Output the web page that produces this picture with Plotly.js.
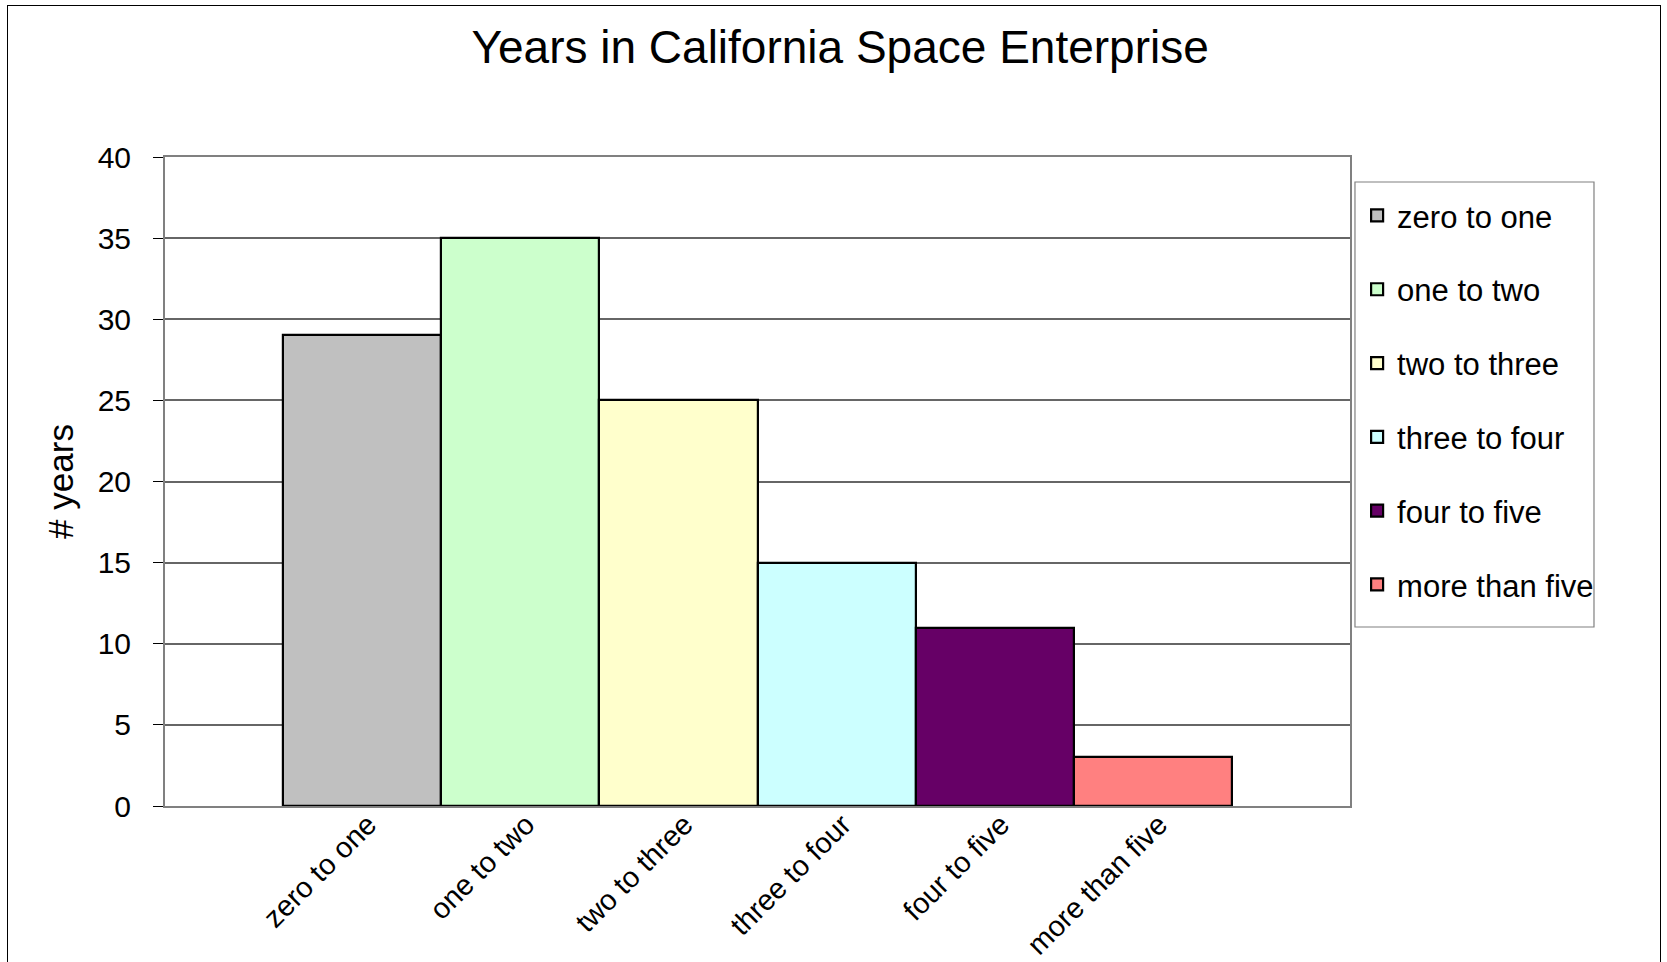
<!DOCTYPE html>
<html>
<head>
<meta charset="utf-8">
<script src="https://cdn.plot.ly/plotly-3.0.1.min.js"></script>
<style>
  html, body { margin: 0; padding: 0; background: #fff; overflow: hidden; }
  #frame { position: absolute; left: 7px; top: 5px; width: 1652px; height: 1000px; border: 1.5px solid #000; pointer-events: none; }
  #chart { position: absolute; left: 0; top: 0; width: 1667px; height: 962px; }
</style>
</head>
<body>
<div id="chart"></div>
<div id="frame"></div>
<script>
const categories = ["zero to one", "one to two", "two to three", "three to four", "four to five", "more than five"];
const values = [29, 35, 25, 15, 11, 3];
const colors = ["#C0C0C0", "#CCFFCC", "#FFFFCC", "#CCFFFF", "#660066", "#FF8080"];
const yTicks = [0, 5, 10, 15, 20, 25, 30, 35, 40];

const traces = categories.map((c, i) => ({
  type: "bar",
  name: c,
  x: [c],
  y: [values[i]],
  width: 1,
  legendgroup: "g" + i,
  marker: { color: colors[i], line: { color: "#000", width: 2.2 } },
  hoverinfo: "x+y"
}));

const font = "Liberation Sans, Arial, sans-serif";
const layout = {
  width: 1667, height: 962,
  paper_bgcolor: "rgba(0,0,0,0)",
  plot_bgcolor: "#fff",
  margin: { l: 165, r: 317, t: 157, b: 156, pad: 0 },
  barmode: "overlay",
  bargap: 0,
  title: { text: "Years in California Space Enterprise", font: { family: font, size: 46, color: "#000" }, x: 0.504, xanchor: "center", y: 0.951, yanchor: "middle" },
  xaxis: {
    type: "category",
    categoryarray: categories,
    range: [-1.245, 6.245],
    tickangle: -45,
    ticks: "",
    ticklabelshift: 6,
    ticklabelstandoff: -12,
    tickfont: { family: font, size: 29, color: "#000" },
    showgrid: false,
    showline: true, linecolor: "#808080", linewidth: 2, mirror: true,
    fixedrange: true
  },
  yaxis: {
    range: [0, 40],
    tickvals: yTicks,
    ticks: "outside", ticklen: 10, tickcolor: "#000", tickwidth: 1,
    ticklabelstandoff: 16,
    tickfont: { family: font, size: 30, color: "#000" },
    showgrid: true, gridcolor: "#666", gridwidth: 1.5,
    showline: true, linecolor: "#808080", linewidth: 2, mirror: true,
    zeroline: false,
    title: { text: "# years", font: { family: font, size: 35, color: "#000" }, standoff: 13 },
    fixedrange: true
  },
  shapes: [{
    type: "rect", xref: "paper", yref: "paper",
    x0: 1.0042, x1: 1.2059, y0: 0.2758, y1: 0.9615,
    line: { color: "#808080", width: 1.2 }, fillcolor: "rgba(0,0,0,0)", layer: "above"
  }],
  showlegend: true,
  legend: {
    x: 1.006, xanchor: "left", y: 0.951, yanchor: "top",
    borderwidth: 0, bgcolor: "rgba(0,0,0,0)",
    font: { family: font, size: 31, color: "#000" },
    tracegroupgap: 30.5,
    traceorder: "grouped",
    itemwidth: 30
  }
};

Plotly.newPlot("chart", traces, layout, { displayModeBar: false });
</script>
</body>
</html>
